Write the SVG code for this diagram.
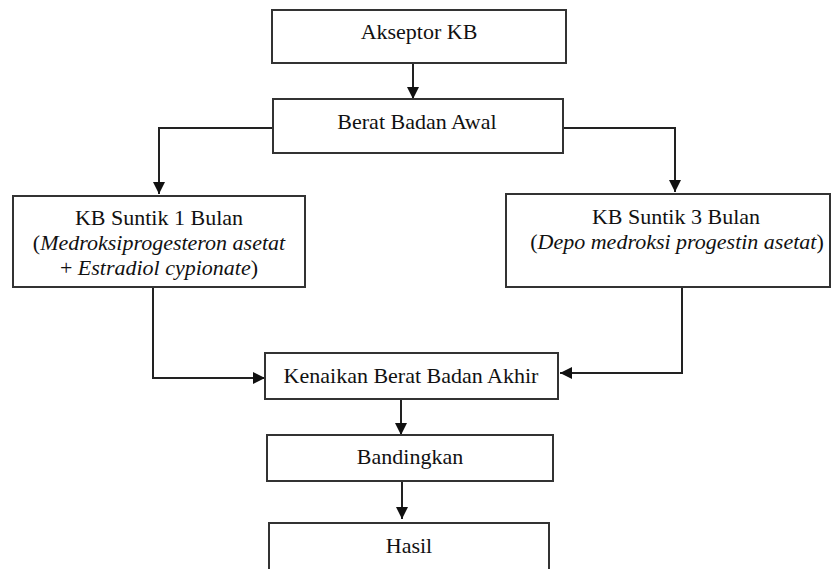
<svg xmlns="http://www.w3.org/2000/svg" width="831" height="569" viewBox="0 0 831 569" font-family="'Liberation Serif', 'Times New Roman', Times, serif">
<style>
.box{fill:#fff;stroke:#333;stroke-width:2}
.t{font-family:'Liberation Serif','Times New Roman',Times,serif;font-size:22px;fill:#111;text-anchor:middle}
.i{font-style:italic}
.c{fill:none;stroke:#222;stroke-width:2}
</style>
<defs>
<marker id="ah" markerUnits="userSpaceOnUse" markerWidth="12" markerHeight="12" viewBox="0 0 12 12" refX="12" refY="6" orient="auto">
<path d="M0,0 L12,6 L0,12 Z" fill="#111"/>
</marker>
</defs>
<rect width="831" height="569" fill="#fff"/>
<g id="connectors">
<path class="c" d="M413,63 V99" marker-end="url(#ah)"/>
<path class="c" d="M272,128 H159 V194" marker-end="url(#ah)"/>
<path class="c" d="M563,128 H675 V192" marker-end="url(#ah)"/>
<path class="c" d="M153,287 V378 H265" marker-end="url(#ah)"/>
<path class="c" d="M682,287 V373 H560" marker-end="url(#ah)"/>
<path class="c" d="M401,399 V435" marker-end="url(#ah)"/>
<path class="c" d="M402,481 V519" marker-end="url(#ah)"/>
</g>
<g id="akseptor">
<rect class="box" x="272" y="10" width="294" height="53"/>
<text class="t" x="419" y="39">Akseptor KB</text>
</g>
<g id="berat-awal">
<rect class="box" x="273" y="99" width="290" height="54"/>
<text class="t" x="417" y="129">Berat Badan Awal</text>
</g>
<g id="suntik1">
<rect class="box" x="13" y="196" width="292" height="91"/>
<text class="t" x="159" y="225">KB Suntik 1 Bulan</text>
<text class="t" x="159" y="250">(<tspan class="i">Medroksiprogesteron asetat</tspan></text>
<text class="t" x="159" y="275">+ <tspan class="i">Estradiol cypionate</tspan>)</text>
</g>
<g id="suntik3">
<rect class="box" x="506" y="194" width="324" height="93"/>
<text class="t" x="676" y="224">KB Suntik 3 Bulan</text>
<text class="t" x="677" y="249">(<tspan class="i">Depo medroksi progestin asetat</tspan>)</text>
</g>
<g id="kenaikan">
<rect class="box" x="265" y="353" width="293" height="46"/>
<text class="t" x="411" y="383">Kenaikan Berat Badan Akhir</text>
</g>
<g id="bandingkan">
<rect class="box" x="267" y="435" width="286" height="46"/>
<text class="t" x="410" y="464">Bandingkan</text>
</g>
<g id="hasil">
<rect class="box" x="269" y="523" width="280" height="60"/>
<text class="t" x="409" y="553">Hasil</text>
</g>
</svg>
